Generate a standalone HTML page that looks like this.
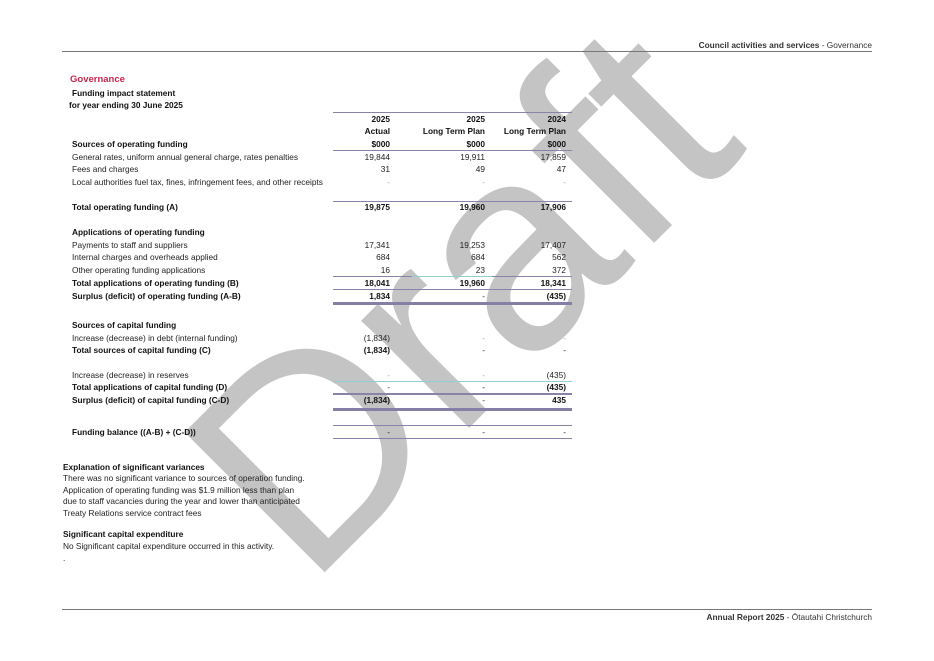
<!DOCTYPE html>
<html><head><meta charset="utf-8"><style>
body{margin:0;width:934px;height:661px;background:#fff;position:relative;overflow:hidden;font-family:"Liberation Sans",sans-serif;color:#222}
.t{position:absolute;font-size:8.3px;white-space:nowrap;line-height:10px}
.b{font-weight:bold;color:#111}
.r{position:absolute;font-size:8.3px;white-space:nowrap;line-height:10px;text-align:right;width:80px}
.l{position:absolute;left:333px;width:239px;height:1px;background:#8a82a8}
svg{position:absolute;left:0;top:0}
</style></head><body>
<svg width="934" height="661"><text x="0" y="0" transform="translate(308,589) rotate(-45)" font-family="Liberation Sans, sans-serif" font-size="288" fill="#c4c4c4">Draft</text></svg>

<div style="position:absolute;left:62px;top:51px;width:810px;height:1px;background:#777"></div>
<div class="t" style="right:62px;top:40px;color:#333"><b>Council activities and services</b> - Governance</div>
<div style="position:absolute;left:62px;top:609px;width:810px;height:1px;background:#777"></div>
<div class="t" style="right:62px;top:612px;color:#333"><b>Annual Report 2025</b> - Ōtautahi Christchurch</div>

<div class="t b" style="left:70px;top:75px;color:#c8264f;font-size:9.5px">Governance</div>
<div class="t b" style="left:72px;top:88px">Funding impact statement</div>
<div class="t b" style="left:69px;top:100px">for year ending 30 June 2025</div>

<div class="l" style="top:112px"></div>
<div class="r b" style="left:310px;top:114px">2025</div><div class="r b" style="left:405px;top:114px">2025</div><div class="r b" style="left:486px;top:114px">2024</div>
<div class="r b" style="left:310px;top:126px">Actual</div><div class="r b" style="left:405px;top:126px">Long Term Plan</div><div class="r b" style="left:486px;top:126px">Long Term Plan</div>
<div class="t b" style="left:72px;top:139px">Sources of operating funding</div>
<div class="r b" style="left:310px;top:139px">$000</div><div class="r b" style="left:405px;top:139px">$000</div><div class="r b" style="left:486px;top:139px">$000</div>
<div class="l" style="top:150px"></div>

<div class="t" style="left:72px;top:152px">General rates, uniform annual general charge, rates penalties</div>
<div class="r" style="left:310px;top:152px">19,844</div><div class="r" style="left:405px;top:152px">19,911</div><div class="r" style="left:486px;top:152px">17,859</div>
<div class="t" style="left:72px;top:164px">Fees and charges</div>
<div class="r" style="left:310px;top:164px">31</div><div class="r" style="left:405px;top:164px">49</div><div class="r" style="left:486px;top:164px">47</div>
<div class="t" style="left:72px;top:177px">Local authorities fuel tax, fines, infringement fees, and other receipts</div>
<div class="r" style="left:310px;top:177px;color:#aaa">-</div><div class="r" style="left:405px;top:177px;color:#aaa">-</div><div class="r" style="left:486px;top:177px;color:#aaa">-</div>

<div class="l" style="top:201px"></div>
<div class="t b" style="left:72px;top:202px">Total operating funding (A)</div>
<div class="r b" style="left:310px;top:202px">19,875</div><div class="r b" style="left:405px;top:202px">19,960</div><div class="r b" style="left:486px;top:202px">17,906</div>

<div class="t b" style="left:72px;top:227px">Applications of operating funding</div>
<div class="t" style="left:72px;top:240px">Payments to staff and suppliers</div>
<div class="r" style="left:310px;top:240px">17,341</div><div class="r" style="left:405px;top:240px">19,253</div><div class="r" style="left:486px;top:240px">17,407</div>
<div class="t" style="left:72px;top:252px">Internal charges and overheads applied</div>
<div class="r" style="left:310px;top:252px">684</div><div class="r" style="left:405px;top:252px">684</div><div class="r" style="left:486px;top:252px">562</div>
<div class="t" style="left:72px;top:265px">Other operating funding applications</div>
<div class="r" style="left:310px;top:265px">16</div><div class="r" style="left:405px;top:265px">23</div><div class="r" style="left:486px;top:265px">372</div>
<div class="l" style="top:276px"></div><div style="position:absolute;left:412px;top:276px;width:80px;height:1px;background:#8fcfcf"></div>
<div class="t b" style="left:72px;top:278px">Total applications of operating funding (B)</div>
<div class="r b" style="left:310px;top:278px">18,041</div><div class="r b" style="left:405px;top:278px">19,960</div><div class="r b" style="left:486px;top:278px">18,341</div>
<div class="l" style="top:289px"></div>
<div class="t b" style="left:72px;top:291px">Surplus (deficit) of operating funding (A-B)</div>
<div class="r b" style="left:310px;top:291px">1,834</div><div class="r" style="left:405px;top:291px">-</div><div class="r b" style="left:486px;top:291px">(435)</div>
<div class="l" style="top:302px;height:3px;background:#857ea6"></div>

<div class="t b" style="left:72px;top:320px">Sources of capital funding</div>
<div class="t" style="left:72px;top:333px">Increase (decrease) in debt (internal funding)</div>
<div class="r" style="left:310px;top:333px">(1,834)</div><div class="r" style="left:405px;top:333px;color:#aaa">-</div><div class="r" style="left:486px;top:333px;color:#aaa">-</div>
<div class="t b" style="left:72px;top:345px">Total sources of capital funding (C)</div>
<div class="r b" style="left:310px;top:345px">(1,834)</div><div class="r" style="left:405px;top:345px">-</div><div class="r" style="left:486px;top:345px">-</div>

<div class="t" style="left:72px;top:370px">Increase (decrease) in reserves</div>
<div class="r" style="left:310px;top:370px;color:#aaa">-</div><div class="r" style="left:405px;top:370px;color:#aaa">-</div><div class="r" style="left:486px;top:370px">(435)</div>
<div class="l" style="top:381px;background:#8fcfcf"></div>
<div class="t b" style="left:72px;top:382px">Total applications of capital funding (D)</div>
<div class="r" style="left:310px;top:382px">-</div><div class="r" style="left:405px;top:382px">-</div><div class="r b" style="left:486px;top:382px">(435)</div>
<div class="l" style="top:393px;height:2px"></div>
<div class="t b" style="left:72px;top:395px">Surplus (deficit) of capital funding (C-D)</div>
<div class="r b" style="left:310px;top:395px">(1,834)</div><div class="r" style="left:405px;top:395px">-</div><div class="r b" style="left:486px;top:395px">435</div>
<div class="l" style="top:408px;height:3px;background:#857ea6"></div>

<div class="l" style="top:425px"></div>
<div class="t b" style="left:72px;top:427px">Funding balance ((A-B) + (C-D))</div>
<div class="r" style="left:310px;top:427px">-</div><div class="r" style="left:405px;top:427px">-</div><div class="r" style="left:486px;top:427px">-</div>
<div class="l" style="top:438px"></div>

<div class="t b" style="left:63px;top:462px">Explanation of significant variances</div>
<div class="t" style="left:63px;top:473px;line-height:11.5px">There was no significant variance to sources of operation funding.<br>Application of operating funding was $1.9 million less than plan<br>due to staff vacancies during the year and lower than anticipated<br>Treaty Relations service contract fees</div>
<div class="t b" style="left:63px;top:529px">Significant capital expenditure</div>
<div class="t" style="left:63px;top:541px">No Significant capital expenditure occurred in this activity.</div>
<div class="t" style="left:63px;top:553px">.</div>
</body></html>
